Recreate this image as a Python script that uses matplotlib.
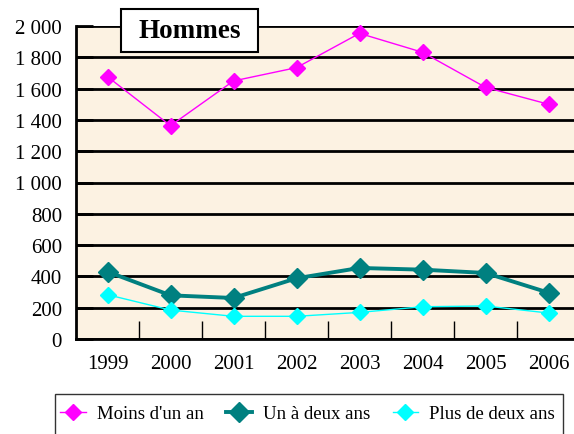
import numpy as np
import matplotlib.pyplot as plt
from matplotlib.patches import Rectangle

plt.rcParams['font.family'] = ['Liberation Serif', 'DejaVu Serif']

years = ["1999", "2000", "2001", "2002", "2003", "2004", "2005", "2006"]
moins_un_an = [1676, 1363, 1649, 1734, 1953, 1832, 1608, 1500]
un_a_deux = [430, 279, 262, 388, 454, 443, 422, 296]
plus_deux = [283, 185, 145, 145, 170, 206, 211, 166]
y_ticks = [0, 200, 400, 600, 800, 1000, 1200, 1400, 1600, 1800, 2000]
y_labels = ["0", "200", "400", "600", "800", "1 000", "1 200", "1 400", "1 600", "1 800", "2 000"]

fig = plt.figure(figsize=(5.74, 4.35), dpi=100)
ax = fig.add_axes([76 / 574, 1 - 340 / 435, 504 / 574, 313 / 435])
ax.set_facecolor("#fcf2e2")

x = np.arange(len(years))
ax.plot(x, moins_un_an, color="#ff00ff", lw=1, marker="D", ms=8, label="Moins d'un an", clip_on=False)
ax.plot(x, un_a_deux, color="#008080", lw=2.8, marker="D", ms=10, label="Un à deux ans", clip_on=False)
ax.plot(x, plus_deux, color="#00ffff", lw=1, marker="D", ms=8, label="Plus de deux ans", clip_on=False)

ax.set_xlim(-0.5, len(years) - 0.5)
ax.set_ylim(0, 2000)
ax.set_yticks(y_ticks)
ax.set_yticklabels(y_labels, fontsize=15)
ax.set_xticks(x)
ax.set_xticklabels(years, fontsize=15)
ax.set_xticks(np.arange(0.5, len(years) - 0.5), minor=True)
ax.tick_params(axis="x", which="major", length=0, pad=11)
ax.tick_params(axis="x", which="minor", direction="in", length=13, width=1)
ax.tick_params(axis="y", direction="in", length=12, width=2, pad=10)
ax.yaxis.grid(True, color="black", lw=2)
ax.set_axisbelow(True)
for s in ["top", "right"]:
    ax.spines[s].set_visible(False)
for s in ["left", "bottom"]:
    ax.spines[s].set_linewidth(2)

# title box
fig.patches.append(Rectangle((121 / 574, 1 - 53 / 435), 137 / 574, 43 / 435,
                             transform=fig.transFigure, facecolor="white",
                             edgecolor="black", lw=1.5, zorder=5))
fig.text(189.5 / 574, 1 - 32 / 435, "Hommes", fontsize=19.5, fontweight="bold",
         ha="center", va="center", zorder=6)

# legend frame runs past the bottom edge
fig.patches.append(Rectangle((55 / 574, -0.05), 508 / 574, 1 - 395 / 435 + 0.05,
                             transform=fig.transFigure, facecolor="white",
                             edgecolor="#333333", lw=1, zorder=1))
leg = fig.legend(loc="upper left", bbox_to_anchor=(50 / 574, 1 - 396 / 435),
                 borderaxespad=0, ncol=3, fontsize=13.5, frameon=False,
                 handlelength=1.35, borderpad=0.55, handletextpad=0.6,
                 columnspacing=1.2)
leg.set_zorder(2)

fig.savefig("out.png", dpi=100)
